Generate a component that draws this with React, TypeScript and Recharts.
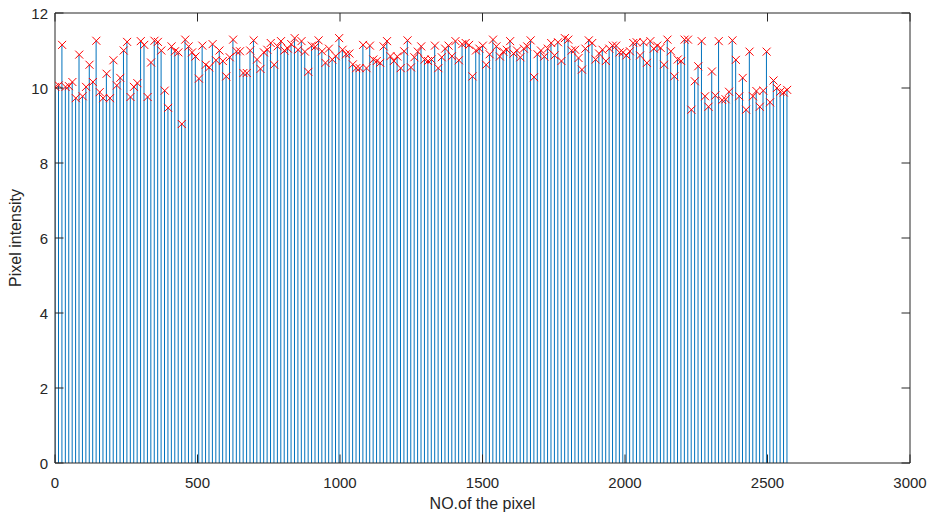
import React from 'react';
import { ComposedChart, Bar, Scatter, XAxis, YAxis } from 'recharts';

const pixelNo: number[] = [
  1, 13, 25, 37, 49, 61, 73, 85, 97, 109,
  121, 133, 145, 157, 169, 181, 193, 205, 217, 229,
  241, 253, 265, 277, 289, 301, 313, 325, 337, 349,
  361, 373, 385, 397, 409, 421, 433, 445, 457, 469,
  481, 493, 505, 517, 529, 541, 553, 565, 577, 589,
  601, 613, 625, 637, 649, 661, 673, 685, 697, 709,
  721, 733, 745, 757, 769, 781, 793, 805, 817, 829,
  841, 853, 865, 877, 889, 901, 913, 925, 937, 949,
  961, 973, 985, 997, 1009, 1021, 1033, 1045, 1057, 1069,
  1081, 1093, 1105, 1117, 1129, 1141, 1153, 1165, 1177, 1189,
  1201, 1213, 1225, 1237, 1249, 1261, 1273, 1285, 1297, 1309,
  1321, 1333, 1345, 1357, 1369, 1381, 1393, 1405, 1417, 1429,
  1441, 1453, 1465, 1477, 1489, 1501, 1513, 1525, 1537, 1549,
  1561, 1573, 1585, 1597, 1609, 1621, 1633, 1645, 1657, 1669,
  1681, 1693, 1705, 1717, 1729, 1741, 1753, 1765, 1777, 1789,
  1801, 1813, 1825, 1837, 1849, 1861, 1873, 1885, 1897, 1909,
  1921, 1933, 1945, 1957, 1969, 1981, 1993, 2005, 2017, 2029,
  2041, 2053, 2065, 2077, 2089, 2101, 2113, 2125, 2137, 2149,
  2161, 2173, 2185, 2197, 2209, 2221, 2233, 2245, 2257, 2269,
  2281, 2293, 2305, 2317, 2329, 2341, 2353, 2365, 2377, 2389,
  2401, 2413, 2425, 2437, 2449, 2461, 2473, 2485, 2497, 2509,
  2521, 2533, 2545, 2557, 2569,
];

const intensity: number[] = [
  10.03, 10.07, 11.15, 10.03, 10.05, 10.16, 9.73, 10.89, 9.78, 10.03,
  10.62, 10.16, 11.26, 9.89, 9.73, 10.38, 9.73, 10.74, 10.07, 10.27,
  11.0, 11.23, 9.76, 10.03, 10.13, 11.25, 11.15, 9.76, 10.68, 11.26,
  11.23, 11.0, 9.93, 9.47, 11.11, 10.98, 10.95, 9.04, 11.29, 11.11,
  10.95, 10.84, 10.25, 11.13, 10.62, 10.55, 11.17, 10.74, 11.0, 10.72,
  10.31, 10.82, 11.29, 10.98, 10.98, 10.4, 10.4, 11.0, 11.27, 10.76,
  10.51, 10.95, 11.02, 11.2, 10.62, 11.11, 11.25, 11.0, 11.05, 11.17,
  11.33, 11.02, 11.25, 10.97, 10.43, 11.13, 11.1, 11.27, 10.98, 10.67,
  11.05, 10.76, 10.85, 11.33, 11.02, 10.9, 10.92, 10.63, 10.53, 10.53,
  11.15, 10.53, 11.13, 10.76, 10.72, 10.67, 11.11, 11.25, 10.85, 10.72,
  10.84, 10.53, 10.98, 11.27, 10.55, 10.82, 10.97, 11.11, 10.76, 10.72,
  10.76, 11.13, 10.53, 10.82, 11.05, 11.13, 10.85, 11.25, 10.74, 11.17,
  11.2, 11.15, 10.31, 11.0, 11.05, 11.13, 10.62, 10.9, 11.29, 11.11,
  10.84, 10.97, 11.02, 11.25, 10.92, 11.0, 10.82, 11.05, 11.11, 11.27,
  10.29, 10.9, 11.0, 10.84, 11.05, 11.2, 10.87, 11.22, 10.72, 11.33,
  11.29, 11.0, 11.02, 10.8, 10.49, 11.05, 11.27, 11.2, 10.76, 10.92,
  11.02, 10.72, 11.05, 11.13, 11.13, 10.95, 10.95, 10.87, 10.98, 11.2,
  11.22, 10.87, 11.22, 10.67, 11.25, 11.05, 11.13, 11.07, 10.62, 11.29,
  10.98, 10.31, 10.76, 10.72, 11.29, 11.29, 9.42, 10.18, 10.58, 11.25,
  9.78, 9.5, 10.44, 9.8, 11.25, 9.68, 9.7, 9.9, 11.27, 10.75,
  9.78, 10.27, 9.42, 10.97, 9.78, 9.92, 9.5, 9.93, 10.97, 9.62,
  10.2, 10.0, 9.9, 9.88, 9.95,
];

const xTicks: number[] = [0, 500, 1000, 1500, 2000, 2500, 3000];
const yTicks: number[] = [0, 2, 4, 6, 8, 10, 12];

const rows = pixelNo.map((x, i) => ({ x, v: intensity[i] }));

const AX = '#262626';
const FONT = '"Liberation Sans", Arial, Helvetica, sans-serif';
const TL = 8.5;

const BottomTick = (p: any) => (
  <g>
    <line x1={p.x} x2={p.x} y1={p.y} y2={p.y - TL} stroke={AX} strokeWidth={1} />
    <text x={p.x} y={p.y + 25} textAnchor="middle" fontSize={15} fill={AX} fontFamily={FONT}>
      {p.payload.value}
    </text>
  </g>
);
const TopTick = (p: any) => (
  <line x1={p.x} x2={p.x} y1={p.y} y2={p.y + TL} stroke={AX} strokeWidth={1} />
);
const LeftTick = (p: any) => (
  <g>
    <line x1={p.x} x2={p.x + TL} y1={p.y} y2={p.y} stroke={AX} strokeWidth={1} />
    <text x={p.x - 7} y={p.y + 5.5} textAnchor="end" fontSize={15} fill={AX} fontFamily={FONT}>
      {p.payload.value}
    </text>
  </g>
);
const RightTick = (p: any) => (
  <line x1={p.x} x2={p.x - TL} y1={p.y} y2={p.y} stroke={AX} strokeWidth={1} />
);

const XMark = (p: any) => {
  const { cx, cy } = p;
  if (cx == null || cy == null) return null;
  const s = 4;
  return (
    <g>
      <line x1={cx - s} y1={cy - s} x2={cx + s} y2={cy + s} stroke="#FF0000" strokeWidth={1} />
      <line x1={cx - s} y1={cy + s} x2={cx + s} y2={cy - s} stroke="#FF0000" strokeWidth={1} />
    </g>
  );
};

const NoShape = () => <g />;

const XLabel = (p: any) => {
  const vb = p.viewBox;
  return (
    <text x={vb.x + vb.width / 2} y={vb.y + 46} textAnchor="middle" fontSize={16} fill={AX} fontFamily={FONT}>
      NO.of the pixel
    </text>
  );
};
const YLabel = (p: any) => {
  const vb = p.viewBox;
  const cx = vb.x + 21;
  const cy = vb.y + vb.height / 2;
  return (
    <text x={cx} y={cy} transform={`rotate(-90 ${cx} ${cy})`} textAnchor="middle" fontSize={16} fill={AX} fontFamily={FONT}>
      Pixel intensity
    </text>
  );
};

export default function App() {
  return (
    <div style={{ position: 'absolute', left: 0, top: 0, width: 930, height: 513, background: '#fff' }}>
      <ComposedChart width={930} height={513} data={rows} margin={{ top: 12, right: 19, left: 0, bottom: 0 }}>
        <XAxis
          xAxisId="b"
          dataKey="x"
          type="number"
          domain={[0, 3000]}
          ticks={xTicks}
          allowDataOverflow
          height={50}
          tickSize={0}
          tickMargin={0}
          tickLine={false}
          axisLine={{ stroke: AX }}
          tick={<BottomTick />}
          interval={0}
          label={{ content: <XLabel /> }}
        />
        <XAxis
          xAxisId="t"
          dataKey="x"
          orientation="top"
          type="number"
          domain={[0, 3000]}
          ticks={xTicks}
          allowDataOverflow
          height={1}
          tickSize={0}
          tickMargin={0}
          tickLine={false}
          axisLine={{ stroke: AX }}
          tick={<TopTick />}
          interval={0}
        />
        <YAxis
          yAxisId="l"
          type="number"
          domain={[0, 12]}
          ticks={yTicks}
          allowDataOverflow
          width={55}
          tickSize={0}
          tickMargin={0}
          tickLine={false}
          axisLine={{ stroke: AX }}
          tick={<LeftTick />}
          interval={0}
          label={{ content: <YLabel /> }}
        />
        <YAxis
          yAxisId="r"
          orientation="right"
          type="number"
          domain={[0, 12]}
          ticks={yTicks}
          allowDataOverflow
          width={1}
          tickSize={0}
          tickMargin={0}
          tickLine={false}
          axisLine={{ stroke: AX }}
          tick={<RightTick />}
          interval={0}
        />
        <Bar xAxisId="b" yAxisId="l" dataKey="v" barSize={1} fill="#0072BD" isAnimationActive={false} />
        <Scatter xAxisId="b" yAxisId="l" dataKey="v" shape={<XMark />} isAnimationActive={false} />
        <Scatter xAxisId="t" yAxisId="r" dataKey="v" shape={<NoShape />} isAnimationActive={false} legendType="none" />
      </ComposedChart>
    </div>
  );
}
